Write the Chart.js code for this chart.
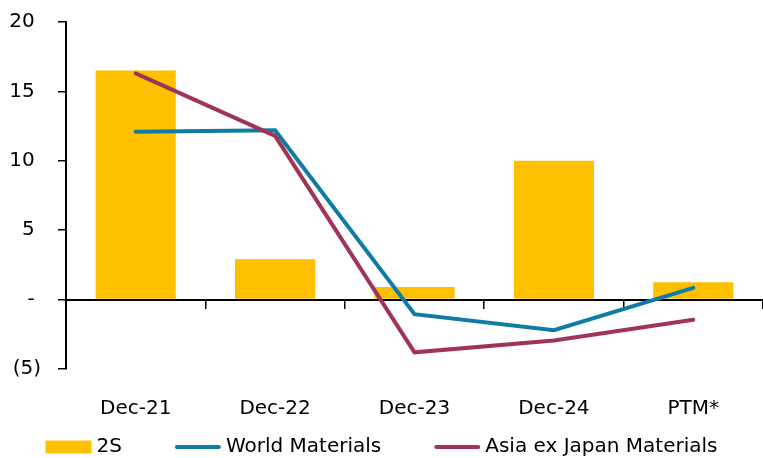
<!DOCTYPE html>
<html>
<head>
<meta charset="utf-8">
<script src="https://cdn.jsdelivr.net/npm/chart.js@4/dist/chart.umd.min.js"></script>
<style>
  html, body { margin: 0; padding: 0; background: #ffffff; }
  #wrap { width: 763px; height: 458px; }
</style>
</head>
<body>
<div id="wrap"><canvas id="chart"></canvas></div>
<script>
// Annual earnings change by period (%)
const categories = ['Dec-21', 'Dec-22', 'Dec-23', 'Dec-24', 'PTM*'];
const twoS = [16.5, 2.9, 0.9, 10.0, 1.25];
const worldMaterials = [12.1, 12.2, -1.05, -2.2, 0.85];
const asiaExJapanMaterials = [16.3, 11.8, -3.8, -2.95, -1.45];
const yTicks = [-5, 0, 5, 10, 15, 20];

const FONT = 'DejaVu Sans';
const BAR_COLOR = '#FFC000';
const WORLD_COLOR = '#0F7CA5';
const ASIA_COLOR = '#A03457';

// Accounting-style tick text: negatives in brackets, zero as a dash
function fmtTick(v) {
  if (v === 0) return '- ';
  if (v < 0) return '(' + Math.abs(v) + ')';
  return v + ' ';
}

// Legend drawn along the bottom: swatch then label, items centred
const bottomLegend = {
  id: 'bottomLegend',
  afterDraw(chart) {
    const ctx = chart.ctx;
    const swW = 46, gap = 5, spacing = 53, cy = 447;
    ctx.save();
    ctx.font = '20px "' + FONT + '"';
    ctx.textBaseline = 'middle';
    ctx.textAlign = 'left';
    const items = chart.data.datasets.map(ds => ({
      text: ds.label, type: ds.type, color: ds.type === 'bar' ? ds.backgroundColor : ds.borderColor,
      w: ctx.measureText(ds.label).width
    }));
    let total = items.reduce((s, it) => s + swW + gap + it.w, 0) + spacing * (items.length - 1);
    let x = (chart.width - total) / 2;
    items.forEach(it => {
      if (it.type === 'bar') {
        ctx.fillStyle = it.color;
        ctx.fillRect(x, cy - 6.5, swW, 13);
      } else {
        ctx.strokeStyle = it.color;
        ctx.lineWidth = 4;
        ctx.lineCap = 'round';
        ctx.beginPath();
        ctx.moveTo(x + 2, cy);
        ctx.lineTo(x + swW - 2, cy);
        ctx.stroke();
      }
      ctx.fillStyle = '#000000';
      ctx.fillText(it.text, x + swW + gap, cy);
      x += swW + gap + it.w + spacing;
    });
    ctx.restore();
  }
};

new Chart(document.getElementById('chart'), {
  data: {
    labels: categories,
    datasets: [
      {
        type: 'bar', label: '2S', data: twoS,
        backgroundColor: BAR_COLOR, borderWidth: 0,
        categoryPercentage: 1, barPercentage: 0.575, order: 3
      },
      {
        type: 'line', label: 'World Materials', data: worldMaterials,
        borderColor: WORLD_COLOR, backgroundColor: WORLD_COLOR, borderWidth: 4,
        pointRadius: 0, tension: 0, borderCapStyle: 'round', order: 2
      },
      {
        type: 'line', label: 'Asia ex Japan Materials', data: asiaExJapanMaterials,
        borderColor: ASIA_COLOR, backgroundColor: ASIA_COLOR, borderWidth: 4,
        pointRadius: 0, tension: 0, borderCapStyle: 'round', order: 1
      }
    ]
  },
  options: {
    responsive: true,
    maintainAspectRatio: false,
    animation: false,
    layout: { padding: { top: 22, right: -2, bottom: 0, left: 0 }, autoPadding: false },
    plugins: {
      legend: { display: false },
      tooltip: { enabled: false }
    },
    scales: {
      x: {
        type: 'category',
        position: 'bottom',
        offset: true,
        border: { display: false },
        grid: { display: false, drawTicks: false },
        ticks: { color: '#000000', font: { family: FONT, size: 20 }, padding: 28, maxRotation: 0 },
        afterFit(scale) { scale.height = 89; }
      },
      xZero: {
        type: 'category',
        axis: 'x',
        labels: categories,
        position: { y: 0 },
        offset: true,
        border: { display: true, color: '#000000', width: 2 },
        grid: { display: true, offset: true, drawOnChartArea: false, drawTicks: true,
                tickLength: 8, color: '#000000', tickColor: '#000000', lineWidth: 1.5 },
        ticks: { display: false },
        afterFit(scale) { scale.height = 0; }
      },
      y: {
        min: -5,
        max: 20,
        position: 'left',
        border: { display: true, color: '#000000', width: 2 },
        grid: { display: true, drawOnChartArea: false, drawTicks: true, tickLength: 8,
                color: '#000000', tickColor: '#000000', lineWidth: 1.5 },
        afterBuildTicks(scale) { scale.ticks = yTicks.map(v => ({ value: v })); },
        ticks: {
          color: '#000000', font: { family: FONT, size: 20 }, padding: 17,
          callback: (v) => fmtTick(v)
        },
        afterFit(scale) {
          scale.width = 66;
          scale.paddingTop = 0;
          scale.paddingBottom = 0;
        }
      }
    }
  },
  plugins: [bottomLegend]
});
</script>
</body>
</html>
